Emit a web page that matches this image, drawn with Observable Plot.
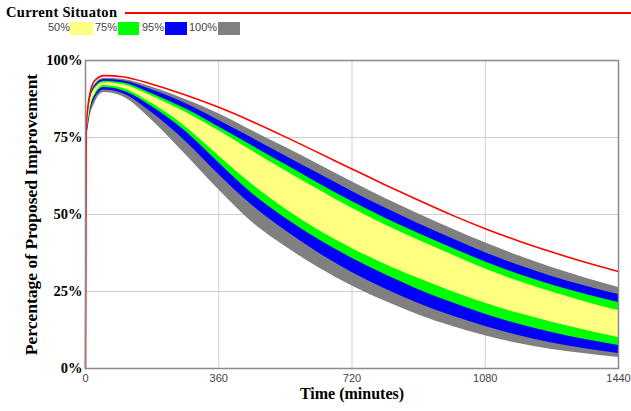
<!DOCTYPE html>
<html><head><meta charset="utf-8">
<script src="https://cdn.jsdelivr.net/npm/d3@7"></script>
<script src="https://cdn.jsdelivr.net/npm/@observablehq/plot@0.6"></script>
<style>
body{margin:0;background:#fff;}
#wrap{position:relative;width:631px;height:411px;overflow:hidden;}
#chart{position:absolute;left:0;top:0;}
.lg{position:absolute;font-family:"Liberation Sans",Arial,sans-serif;font-size:11px;color:#444;}
.sw{position:absolute;height:13px;top:22px;}
</style></head><body>
<div id="wrap">
<div id="chart"></div>
<div id="legend"></div>
</div>
<script>
// ---- data ----
const times            = [0, 2, 10, 25, 50, 100, 180, 270, 360, 450, 540, 630, 720, 810, 900, 990, 1080, 1170, 1260, 1350, 1440];
const currentSituation = [0, 78, 88, 93.5, 95.1, 94.7, 92.3, 88.8, 84.8, 80.2, 75.2, 70, 64.8, 59.6, 54.6, 49.8, 45.4, 41.4, 37.8, 34.5, 31.5];
const upper100 = [0, 76, 86.5, 92.2, 94.2, 93.9, 91.3, 87.3, 82.7, 77.2, 71.8, 66.2, 60.6, 55.2, 50.2, 45.4, 40.8, 36.6, 32.8, 29.4, 26.3];
const upper95  = [0, 75.5, 86, 91.7, 93.8, 93.4, 90.4, 86, 80.5, 74.8, 69, 63.2, 57.5, 52.1, 47, 42.2, 37.6, 33.5, 29.9, 26.8, 24];
const upper75  = [0, 75, 85.5, 91.2, 93.3, 92.8, 89.2, 84.3, 78.4, 72.3, 66.2, 60.1, 54.2, 48.8, 43.8, 39.1, 34.6, 30.6, 27.1, 24.1, 21.4];
const upper50  = [0, 74.5, 85, 90.7, 92.8, 92.2, 88.4, 83.2, 77.2, 70.6, 64.2, 58, 52, 46.6, 41.6, 36.9, 32.3, 28.3, 24.8, 21.6, 18.8];
const lower50  = [0, 72.5, 82.5, 89, 91.9, 91, 86, 78.5, 69, 59.8, 51.8, 44.9, 39, 33.8, 29.2, 25, 21.2, 17.9, 15, 12.4, 10.1];
const lower75  = [0, 72, 82, 88.5, 91.2, 90.2, 85, 77, 66.8, 56.8, 48.8, 41.9, 35.8, 30.4, 25.6, 21.4, 17.6, 14.4, 11.7, 9.4, 7.5];
const lower95  = [0, 71, 81, 87.5, 90.4, 89.3, 83, 73.8, 63, 53, 44.8, 37.5, 31.2, 25.8, 21.1, 17.1, 13.6, 10.7, 8.3, 6.4, 4.9];
const lower100 = [0, 70, 80, 86, 89.6, 88.3, 80.5, 69.5, 58, 47.5, 39.6, 32.7, 26.8, 21.8, 17.4, 13.7, 10.6, 8.1, 6.2, 4.8, 3.6];
const bandLabels = ["50%", "75%", "95%", "100%"];
const bandColors = ["#ffff80", "#00ff00", "#0000ff", "#808080"];
const xTicks = [0, 360, 720, 1080, 1440];
const yTicks = [0, 25, 50, 75, 100];
const seriesLabel = "Current Situaton";
const xLabel = "Time (minutes)";
const yLabel = "Percentage of Proposed Improvement";

const rows = times.map((t, i) => ({
  t, red: currentSituation[i],
  hi100: upper100[i], lo100: lower100[i],
  hi95: upper95[i], lo95: lower95[i],
  hi75: upper75[i], lo75: lower75[i],
  hi50: upper50[i], lo50: lower50[i]
}));

const serif = "'Liberation Serif','Times New Roman',serif";
const sans = "'Liberation Sans',Arial,sans-serif";
const bands = [["lo100","hi100",bandColors[3]],["lo95","hi95",bandColors[2]],["lo75","hi75",bandColors[1]],["lo50","hi50",bandColors[0]]];

const chart = Plot.plot({
  width: 631, height: 411,
  marginLeft: 85, marginRight: 13, marginTop: 60, marginBottom: 43,
  x: {domain: [0, 1440]},
  y: {domain: [0, 100]},
  marks: [
    Plot.gridX(xTicks.slice(1, -1), {stroke: "#cfcfcf", strokeOpacity: 1}),
    Plot.gridY(yTicks.slice(1, -1), {stroke: "#cfcfcf", strokeOpacity: 1}),
    ...bands.map(([lo, hi, c]) => Plot.areaY(rows, {x: "t", y1: lo, y2: hi, fill: c, curve: "monotone-x"})),
    Plot.lineY(rows, {x: "t", y: "red", stroke: "#ff0000", strokeWidth: 1.6, curve: "monotone-x"}),
    Plot.frame({stroke: "#8a8a8a", strokeWidth: 1.5}),
    Plot.axisX({ticks: xTicks, tickFormat: d => String(d), tickSize: 0, tickPadding: 6, label: null, fontFamily: sans, fontSize: 11, fill: "#444"}),
    Plot.axisY({ticks: yTicks, tickFormat: d => d + "%", tickSize: 0, tickPadding: 3, label: null, fontFamily: serif, fontSize: 14.5, fontWeight: "bold", fill: "#000"}),
    Plot.text([xLabel], {frameAnchor: "bottom", dy: 30, text: d => d, fontFamily: serif, fontSize: 16, fontWeight: "bold", fill: "#000"}),
    Plot.text([yLabel], {frameAnchor: "left", textAnchor: "middle", dx: -54, rotate: -90, text: d => d, fontFamily: serif, fontSize: 17.5, fontWeight: "bold", fill: "#000"})
  ]
});
document.getElementById("chart").appendChild(chart);

// legend
const lg = document.getElementById("legend");
lg.innerHTML =
  `<div class="lg" style="left:6px;top:4px;font-family:${serif};font-size:14.5px;font-weight:bold;color:#000;letter-spacing:0.3px;">${seriesLabel}</div>` +
  `<div style="position:absolute;left:125px;top:12px;width:506px;height:2px;background:#ff0000;"></div>`;
const labX = [48, 95, 142, 189];
const swX = [70, 118, 165, 218];
const swW = [23, 21, 22, 22];
bandLabels.forEach((l, i) => {
  lg.innerHTML += `<div class="lg" style="left:${labX[i]}px;top:21px;">${l}</div>` +
    `<div class="sw" style="left:${swX[i]}px;width:${swW[i]}px;background:${bandColors[i]};"></div>`;
});
</script>
</body></html>
